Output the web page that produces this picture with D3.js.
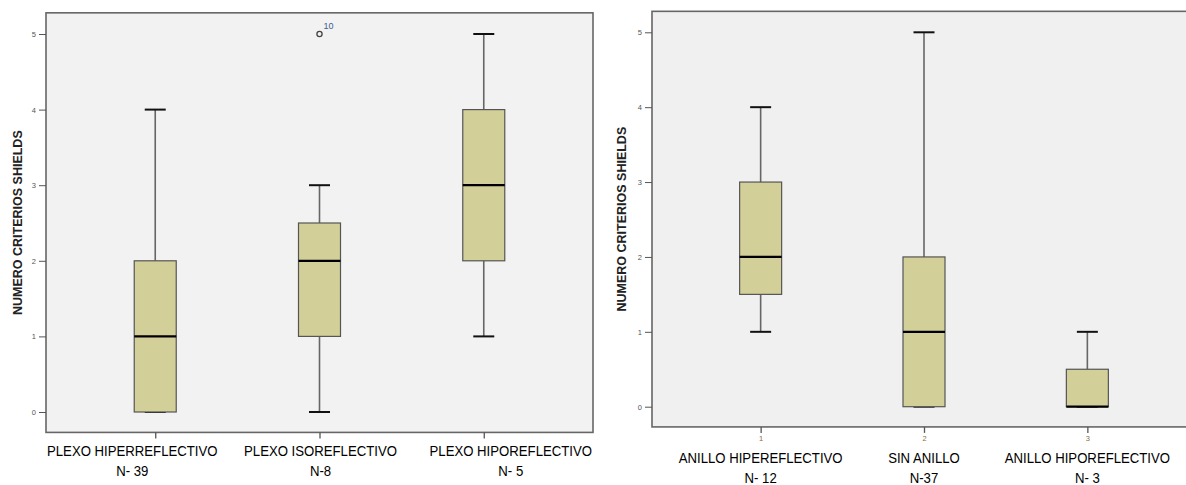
<!DOCTYPE html>
<html>
<head>
<meta charset="utf-8">
<script src="https://cdn.jsdelivr.net/npm/d3@7"></script>
<style>
  body { margin: 0; background: #fff; }
  svg { display: block; }
  .cat { font-family: "Liberation Sans", Arial, sans-serif; font-size: 15.5px; fill: #000; }
  .ytitle { font-family: "Liberation Sans", Arial, sans-serif; font-weight: bold; font-size: 12.5px; fill: #222; }
  .tick text { font-family: "Liberation Sans", Arial, sans-serif; font-size: 7.5px; fill: #555; }
</style>
</head>
<body>
<div id="chart"></div>
<script>
// values
const yTicks = [0, 1, 2, 3, 4, 5];

const leftCategories = ['PLEXO HIPERREFLECTIVO', 'PLEXO ISOREFLECTIVO', 'PLEXO HIPOREFLECTIVO'];
const leftN = ['N- 39', 'N-8', 'N- 5'];
const leftMin = [0, 0, 1];
const leftQ1 = [0, 1, 2];
const leftMedian = [1, 2, 3];
const leftQ3 = [2, 2.5, 4];
const leftMax = [4, 3, 5];
const leftOutliers = [{cat: 1, value: 5, label: '10'}];

const rightCategories = ['ANILLO HIPEREFLECTIVO', 'SIN ANILLO', 'ANILLO HIPOREFLECTIVO'];
const rightN = ['N- 12', 'N-37', 'N- 3'];
const rightCodes = ['1', '2', '3'];
const rightMin = [1, 0, 0];
const rightQ1 = [1.5, 0, 0];
const rightMedian = [2, 1, 0];
const rightQ3 = [3, 2, 0.5];
const rightMax = [4, 5, 1];
const rightOutliers = [];

const svg = d3.select('#chart')
  .append('svg')
    .attr('width', 1186)
    .attr('height', 485);

const boxFill = '#d3cf98';

function drawPanel(p) {
  let x = d3.scalePoint()
        .domain(d3.range(p.categories.length))
        .range([p.left, p.right])
        .padding(0.665),
      y = d3.scaleLinear()
        .domain([0, 5])
        .range([p.y0, p.y5]),
      g = svg.append('g');

  let frameTop = y(5.28), frameBottom = y(-0.27);

  g.append('rect')
    .attr('x', p.left)
    .attr('y', frameTop)
    .attr('width', p.right - p.left)
    .attr('height', frameBottom - frameTop)
    .attr('fill', p.bg)
    .attr('stroke', '#666')
    .attr('stroke-width', 1.6);

  // y axis
  let yAxis = d3.axisLeft(y).tickValues(yTicks).tickSize(7).tickPadding(3)
    .tickFormat(d3.format('d'));
  let ya = g.append('g')
    .attr('class', 'y-axis')
    .attr('transform', `translate(${p.left},0)`)
    .call(yAxis);
  ya.select('.domain').remove();
  ya.selectAll('line').attr('stroke', '#555').attr('stroke-width', 1);

  // x axis ticks
  let xAxis = d3.axisBottom(x).tickSize(6).tickPadding(3)
    .tickFormat(i => p.codes ? p.codes[i] : '');
  let xa = g.append('g')
    .attr('class', 'x-axis')
    .attr('transform', `translate(0,${frameBottom})`)
    .call(xAxis);
  xa.select('.domain').remove();
  xa.selectAll('line').attr('stroke', '#555').attr('stroke-width', 1.3);
  xa.selectAll('text').style('fill', '#8a6a3a');

  // category labels (condensed), pasted slightly off the ticks on the left panel
  p.categories.forEach((c, i) => {
    let lx = x(i) + p.labelShift[i];
    g.append('text')
      .attr('class', 'cat')
      .attr('transform', `translate(${lx},${p.labelY}) scale(0.85,1)`)
      .attr('text-anchor', 'middle')
      .text(c);
    g.append('text')
      .attr('class', 'cat')
      .attr('transform', `translate(${lx},${p.labelY + 19.5}) scale(0.85,1)`)
      .attr('text-anchor', 'middle')
      .text(p.n[i]);
  });

  // y title
  g.append('text')
    .attr('class', 'ytitle')
    .attr('transform', `translate(${p.titleX},${(frameTop + frameBottom) / 2}) rotate(-90)`)
    .attr('text-anchor', 'middle')
    .attr('dy', '0.35em')
    .text('NUMERO CRITERIOS SHIELDS');

  let bw = 42, cw = 21;
  p.categories.forEach((c, i) => {
    let cx = x(i);
    // whiskers
    g.append('line')
      .attr('x1', cx).attr('x2', cx)
      .attr('y1', y(p.max[i])).attr('y2', y(p.q3[i]))
      .attr('stroke', '#666').attr('stroke-width', 1.6);
    g.append('line')
      .attr('x1', cx).attr('x2', cx)
      .attr('y1', y(p.min[i])).attr('y2', y(p.q1[i]))
      .attr('stroke', '#666').attr('stroke-width', 1.6);
    [p.max[i], p.min[i]].forEach(v => {
      g.append('line')
        .attr('x1', cx - cw / 2).attr('x2', cx + cw / 2)
        .attr('y1', y(v)).attr('y2', y(v))
        .attr('stroke', '#111').attr('stroke-width', 2);
    });
    // box
    g.append('rect')
      .attr('x', cx - bw / 2)
      .attr('y', y(p.q3[i]))
      .attr('width', bw)
      .attr('height', y(p.q1[i]) - y(p.q3[i]))
      .attr('fill', boxFill)
      .attr('stroke', '#555')
      .attr('stroke-width', 1.2);
    // median
    g.append('line')
      .attr('x1', cx - bw / 2).attr('x2', cx + bw / 2)
      .attr('y1', y(p.median[i])).attr('y2', y(p.median[i]))
      .attr('stroke', '#000').attr('stroke-width', 2.2);
  });

  // outliers
  p.outliers.forEach(o => {
    g.append('circle')
      .attr('cx', x(o.cat))
      .attr('cy', y(o.value))
      .attr('r', 2.6)
      .attr('fill', 'none')
      .attr('stroke', '#444')
      .attr('stroke-width', 1.3);
    g.append('text')
      .attr('x', x(o.cat) + 4)
      .attr('y', y(o.value) - 5)
      .style('font-family', '"Liberation Sans", Arial, sans-serif')
      .style('font-size', '9px')
      .style('fill', '#3a5f8f')
      .text(o.label);
  });
}

drawPanel({
  categories: leftCategories, n: leftN, codes: null,
  min: leftMin, q1: leftQ1, median: leftMedian, q3: leftQ3, max: leftMax,
  outliers: leftOutliers,
  left: 46, right: 593, y0: 412, y5: 34, bg: '#f2f2f2',
  titleX: 18, labelY: 456, labelShift: [-23, 1, 27]
});

drawPanel({
  categories: rightCategories, n: rightN, codes: rightCodes,
  min: rightMin, q1: rightQ1, median: rightMedian, q3: rightQ3, max: rightMax,
  outliers: rightOutliers,
  left: 652, right: 1196, y0: 406.7, y5: 32.3, bg: '#f0f0f0',
  titleX: 622, labelY: 463, labelShift: [0, 0, 0]
});
</script>
</body>
</html>
